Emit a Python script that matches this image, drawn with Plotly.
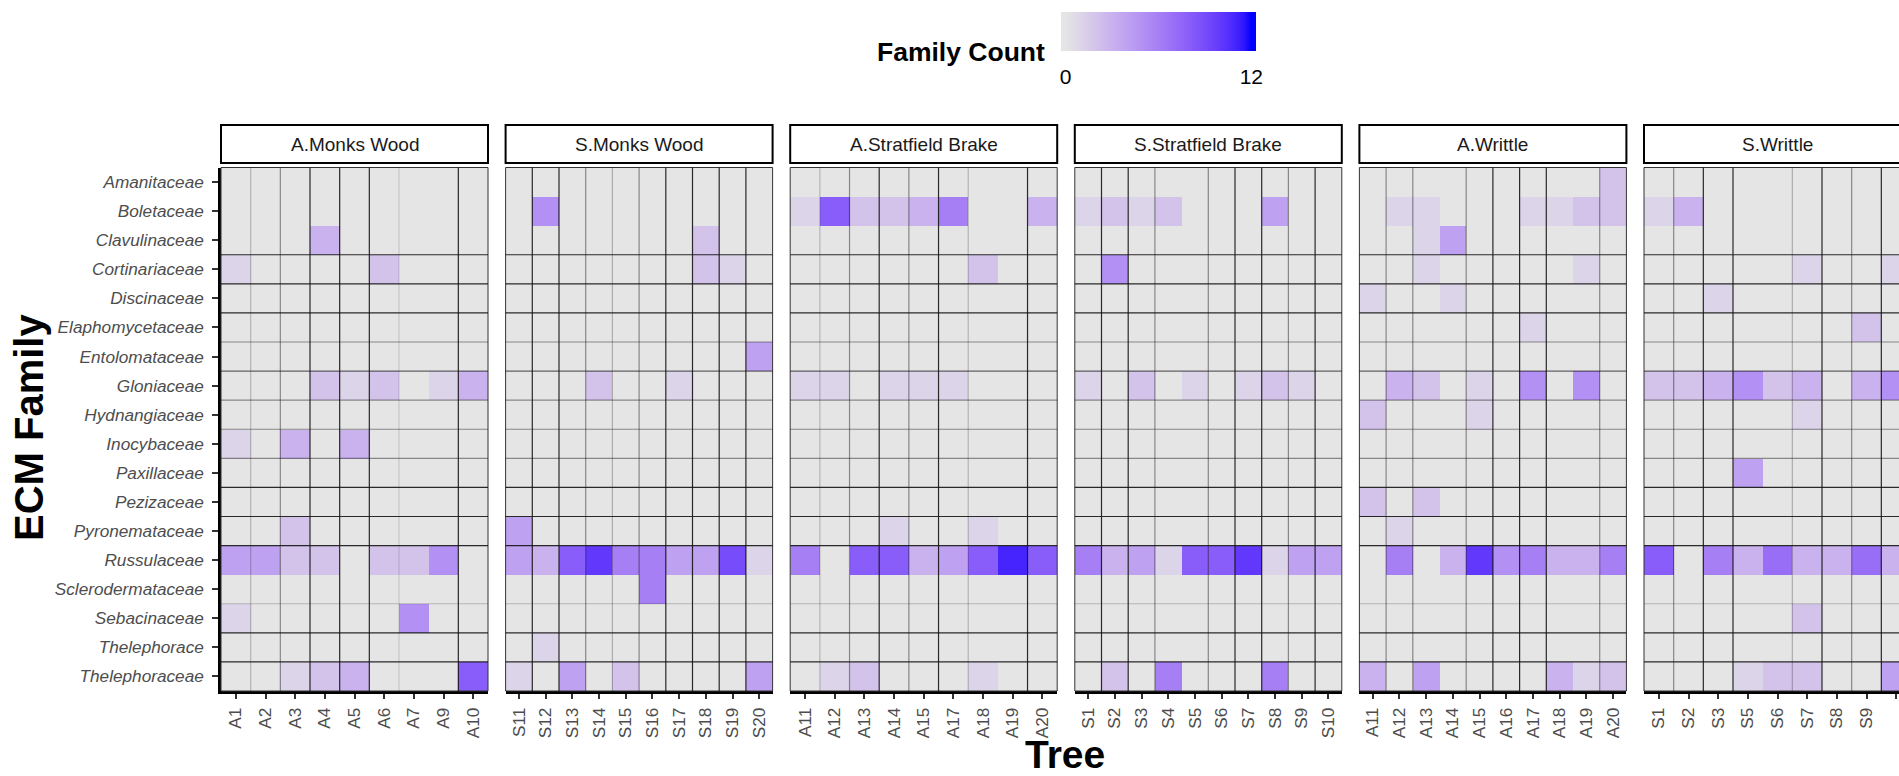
import plotly.graph_objects as go

W, H = 1899, 776
FONT = "Liberation Sans"

families = ["Amanitaceae", "Boletaceae", "Clavulinaceae", "Cortinariaceae", "Discinaceae",
            "Elaphomycetaceae", "Entolomataceae", "Gloniaceae", "Hydnangiaceae", "Inocybaceae",
            "Paxillaceae", "Pezizaceae", "Pyronemataceae", "Russulaceae", "Sclerodermataceae",
            "Sebacinaceae", "Thelephorace", "Thelephoraceae"]

facet_names = ["A.Monks Wood", "S.Monks Wood", "A.Stratfield Brake",
               "S.Stratfield Brake", "A.Writtle", "S.Writtle"]

trees_a_monks = ["A1", "A2", "A3", "A4", "A5", "A6", "A7", "A9", "A10"]
trees_s_monks = ["S11", "S12", "S13", "S14", "S15", "S16", "S17", "S18", "S19", "S20"]
trees_a_strat = ["A11", "A12", "A13", "A14", "A15", "A17", "A18", "A19", "A20"]
trees_s_strat = ["S1", "S2", "S3", "S4", "S5", "S6", "S7", "S8", "S9", "S10"]
trees_a_writ = ["A11", "A12", "A13", "A14", "A15", "A16", "A17", "A18", "A19", "A20"]
trees_s_writ = ["S1", "S2", "S3", "S5", "S6", "S7", "S8", "S9", "S10"]

# family counts per tree (families not listed have a count of 0 for every tree)
counts_a_monks = {
    "Clavulinaceae":  [0, 0, 0, 3, 0, 0, 0, 0, 0],
    "Cortinariaceae": [1, 0, 0, 0, 0, 2, 0, 0, 0],
    "Gloniaceae":     [0, 0, 0, 2, 1, 2, 0, 1, 3],
    "Inocybaceae":    [1, 0, 3, 0, 3, 0, 0, 0, 0],
    "Pyronemataceae": [0, 0, 2, 0, 0, 0, 0, 0, 0],
    "Russulaceae":    [4, 4, 2, 2, 0, 2, 2, 5, 0],
    "Sebacinaceae":   [1, 0, 0, 0, 0, 0, 5, 0, 0],
    "Thelephoraceae": [0, 0, 1, 2, 3, 0, 0, 0, 8],
}
counts_s_monks = {
    "Boletaceae":        [0, 5, 0, 0, 0, 0, 0, 0, 0, 0],
    "Clavulinaceae":     [0, 0, 0, 0, 0, 0, 0, 2, 0, 0],
    "Cortinariaceae":    [0, 0, 0, 0, 0, 0, 0, 2, 1, 0],
    "Entolomataceae":    [0, 0, 0, 0, 0, 0, 0, 0, 0, 4],
    "Gloniaceae":        [0, 0, 0, 2, 0, 0, 1, 0, 0, 0],
    "Pyronemataceae":    [4, 0, 0, 0, 0, 0, 0, 0, 0, 0],
    "Russulaceae":       [4, 3, 8, 10, 6, 6, 4, 4, 9, 1],
    "Sclerodermataceae": [0, 0, 0, 0, 0, 6, 0, 0, 0, 0],
    "Thelephorace":      [0, 1, 0, 0, 0, 0, 0, 0, 0, 0],
    "Thelephoraceae":    [1, 0, 4, 0, 2, 0, 0, 0, 0, 4],
}
counts_a_strat = {
    "Boletaceae":     [1, 8, 2, 2, 3, 6, 0, 0, 3],
    "Cortinariaceae": [0, 0, 0, 0, 0, 0, 2, 0, 0],
    "Gloniaceae":     [1, 1, 0, 1, 1, 1, 0, 0, 0],
    "Pyronemataceae": [0, 0, 0, 1, 0, 0, 1, 0, 0],
    "Russulaceae":    [6, 0, 8, 8, 3, 4, 8, 11, 8],
    "Thelephoraceae": [0, 1, 2, 0, 0, 0, 1, 0, 0],
}
counts_s_strat = {
    "Boletaceae":     [1, 2, 1, 2, 0, 0, 0, 4, 0, 0],
    "Cortinariaceae": [0, 5, 0, 0, 0, 0, 0, 0, 0, 0],
    "Gloniaceae":     [1, 0, 2, 0, 1, 0, 1, 2, 1, 0],
    "Russulaceae":    [6, 3, 4, 1, 8, 8, 10, 1, 4, 4],
    "Thelephoraceae": [0, 2, 0, 6, 0, 0, 0, 6, 0, 0],
}
counts_a_writ = {
    "Amanitaceae":      [0, 0, 0, 0, 0, 0, 0, 0, 0, 2],
    "Boletaceae":       [0, 1, 1, 0, 0, 0, 1, 1, 2, 2],
    "Clavulinaceae":    [0, 0, 1, 4, 0, 0, 0, 0, 0, 0],
    "Cortinariaceae":   [0, 0, 1, 0, 0, 0, 0, 0, 1, 0],
    "Discinaceae":      [1, 0, 0, 1, 0, 0, 0, 0, 0, 0],
    "Elaphomycetaceae": [0, 0, 0, 0, 0, 0, 1, 0, 0, 0],
    "Gloniaceae":       [0, 3, 2, 0, 1, 0, 5, 0, 5, 0],
    "Hydnangiaceae":    [2, 0, 0, 0, 1, 0, 0, 0, 0, 0],
    "Pezizaceae":       [2, 0, 2, 0, 0, 0, 0, 0, 0, 0],
    "Pyronemataceae":   [0, 1, 0, 0, 0, 0, 0, 0, 0, 0],
    "Russulaceae":      [0, 6, 0, 3, 10, 5, 6, 3, 3, 6],
    "Thelephoraceae":   [3, 0, 4, 0, 0, 0, 0, 3, 1, 2],
}
counts_s_writ = {
    "Boletaceae":       [1, 3, 0, 0, 0, 0, 0, 0, 0],
    "Cortinariaceae":   [0, 0, 0, 0, 0, 1, 0, 0, 1],
    "Discinaceae":      [0, 0, 1, 0, 0, 0, 0, 0, 0],
    "Elaphomycetaceae": [0, 0, 0, 0, 0, 0, 0, 2, 0],
    "Gloniaceae":       [2, 2, 3, 5, 2, 3, 0, 3, 5],
    "Hydnangiaceae":    [0, 0, 0, 0, 0, 1, 0, 0, 0],
    "Paxillaceae":      [0, 0, 0, 4, 0, 0, 0, 0, 0],
    "Russulaceae":      [8, 0, 6, 3, 7, 3, 3, 7, 3],
    "Sebacinaceae":     [0, 0, 0, 0, 0, 2, 0, 0, 0],
    "Thelephoraceae":   [0, 0, 0, 1, 2, 2, 0, 0, 4],
}

facet_trees = [trees_a_monks, trees_s_monks, trees_a_strat, trees_s_strat, trees_a_writ, trees_s_writ]
facet_counts = [counts_a_monks, counts_s_monks, counts_a_strat, counts_s_strat, counts_a_writ, counts_s_writ]

# ---------- styling: grid line strengths (tile borders as seen in the picture) ----------
h_line_alpha = [0, 0, 1, 1, 1, .5, .7, .5, .5, .5, 1, 1, 1, 0, .25, 1, 1]
v_line_alpha = [
    [.25, .5, 1, 1, 1, .15, 0, 1],
    [1, 1, .5, .3, .5, 1, 1, 1, 1],
    [.25, .5, 1, .5, 1, .25, 0, 1],
    [1, 1, .5, 0, .5, 1, 1, .5, 1],
    [.5, .5, 0, .5, 1, 1, 1, 0, .5],
    [.5, 1, 1, 0, .3, 1, .5, 1],
]

# ---------- colour scale: grey90 -> blue interpolated in CIE Lab (like ggplot) ----------
def _lin(c):
    c = c / 255.0
    return c / 12.92 if c <= 0.04045 else ((c + 0.055) / 1.055) ** 2.4

def _gam(c):
    c = max(0.0, min(1.0, c))
    v = 12.92 * c if c <= 0.0031308 else 1.055 * c ** (1 / 2.4) - 0.055
    return int(round(max(0, min(1, v)) * 255))

WP = (0.95047, 1.0, 1.08883)

def hex_to_lab(h):
    r, g, b = (_lin(int(h[i:i + 2], 16)) for i in (1, 3, 5))
    X = 0.4124564 * r + 0.3575761 * g + 0.1804375 * b
    Y = 0.2126729 * r + 0.7151522 * g + 0.0721750 * b
    Z = 0.0193339 * r + 0.1191920 * g + 0.9503041 * b
    def f(t):
        return t ** (1 / 3) if t > 216 / 24389 else (24389 / 27 * t + 16) / 116
    fx, fy, fz = f(X / WP[0]), f(Y / WP[1]), f(Z / WP[2])
    return (116 * fy - 16, 500 * (fx - fy), 200 * (fy - fz))

def lab_to_hex(L, a, b):
    fy = (L + 16) / 116
    fx = fy + a / 500
    fz = fy - b / 200
    def fi(t):
        return t ** 3 if t ** 3 > 216 / 24389 else (116 * t - 16) / (24389 / 27)
    X, Y, Z = fi(fx) * WP[0], fi(fy) * WP[1], fi(fz) * WP[2]
    r = 3.2404542 * X - 1.5371385 * Y - 0.4985314 * Z
    g = -0.9692660 * X + 1.8760108 * Y + 0.0415560 * Z
    bb = 0.0556434 * X - 0.2040259 * Y + 1.0572252 * Z
    return "#%02x%02x%02x" % (_gam(r), _gam(g), _gam(bb))

LOW, HIGH = hex_to_lab("#e5e5e5"), hex_to_lab("#0000ff")
ZMIN, ZMAX, PAD = 0, 12, 0.3
CMIN, CMAX = ZMIN - PAD, ZMAX + PAD
colorscale = [[0.0, lab_to_hex(*LOW)]]
N = 24
for i in range(N + 1):
    t = i / N
    lab = tuple(LOW[k] + (HIGH[k] - LOW[k]) * t for k in range(3))
    v = ZMIN + t * (ZMAX - ZMIN)
    colorscale.append([(v - CMIN) / (CMAX - CMIN), lab_to_hex(*lab)])
colorscale.append([1.0, lab_to_hex(*HIGH)])

# ---------- geometry (pixels) ----------
PANEL_LEFT0, PANEL_STEP, PANEL_W = 221.0, 284.6, 267.0
PANEL_TOP, PANEL_BOT = 167.5, 691.0
STRIP_TOP, STRIP_BOT = 125.0, 163.0

fig = go.Figure()
nfam = len(families)
ydom = [1 - PANEL_BOT / H, 1 - PANEL_TOP / H]
shapes, annotations = [], []

for k, (trees, counts) in enumerate(zip(facet_trees, facet_counts)):
    n = len(trees)
    z = [counts.get(f, [0] * n) for f in families]
    xname = "x" if k == 0 else "x%d" % (k + 1)
    axname = "xaxis" if k == 0 else "xaxis%d" % (k + 1)
    left = PANEL_LEFT0 + PANEL_STEP * k
    right = left + PANEL_W
    d1 = min(right / W, 1.0)
    visible_cols = n * (min(right, W) - left) / PANEL_W
    fig.add_trace(go.Heatmap(
        z=z, x=list(range(n)), y=list(range(nfam)),
        coloraxis="coloraxis", xaxis=xname, yaxis="y",
        xgap=0, ygap=0, hoverongaps=False,
    ))
    fig.layout[axname] = dict(
        domain=[left / W, d1], anchor="y",
        range=[-0.5, -0.5 + visible_cols],
        tickmode="array", tickvals=list(range(n)), ticktext=trees,
        tickangle=-90, ticks="outside", ticklen=5, tickwidth=1.5, tickcolor="#333333",
        ticklabelstandoff=2,
        tickfont=dict(family=FONT, size=17.2, color="#4d4d4d"),
        showline=True, linecolor="black", linewidth=2.5,
        showgrid=False, zeroline=False, fixedrange=True,
    )
    # panel border
    shapes.append(dict(type="rect", xref="paper", yref="paper",
                       x0=left / W, x1=right / W, y0=ydom[0], y1=ydom[1],
                       line=dict(color="#333333", width=1), layer="above"))
    # internal tile borders
    for i, a in enumerate(v_line_alpha[k]):
        if a > 0:
            shapes.append(dict(type="line", xref=xname, yref="paper",
                               x0=i + 0.5, x1=i + 0.5, y0=ydom[0], y1=ydom[1],
                               line=dict(color="rgba(20,20,20,%.2f)" % (0.9 * a), width=1.2),
                               layer="above"))
    for j, a in enumerate(h_line_alpha):
        if a > 0:
            shapes.append(dict(type="line", xref="paper", yref="y",
                               x0=left / W, x1=right / W, y0=j + 0.5, y1=j + 0.5,
                               line=dict(color="rgba(20,20,20,%.2f)" % (0.9 * a), width=1.2),
                               layer="above"))
    # strip
    shapes.append(dict(type="rect", xref="paper", yref="paper",
                       x0=left / W, x1=right / W, y0=1 - STRIP_BOT / H, y1=1 - STRIP_TOP / H,
                       fillcolor="white", line=dict(color="black", width=2)))
    annotations.append(dict(text=facet_names[k], xref="paper", yref="paper",
                            x=(left + PANEL_W / 2) / W, y=1 - (STRIP_TOP + STRIP_BOT) / 2 / H,
                            xanchor="center", yanchor="middle", showarrow=False,
                            font=dict(family=FONT, size=19, color="#1a1a1a")))

fig.update_layout(
    width=W, height=H,
    margin=dict(l=0, r=0, t=0, b=0),
    paper_bgcolor="white", plot_bgcolor="white",
    showlegend=False,
    yaxis=dict(domain=ydom, anchor="x", range=[nfam - 0.5, -0.5],
               tickmode="array", tickvals=list(range(nfam)), ticktext=families,
               ticks="outside", ticklen=6, tickwidth=1.5, tickcolor="#333333",
               ticklabelstandoff=5,
               tickfont=dict(family=FONT, size=17.2, color="#4d4d4d", style="italic"),
               showline=True, linecolor="black", linewidth=2.5,
               showgrid=False, zeroline=False, fixedrange=True),
    coloraxis=dict(
        cmin=CMIN, cmax=CMAX, colorscale=colorscale,
        colorbar=dict(orientation="h", x=1158.5 / W, xanchor="center",
                      y=1 - 12 / H, yanchor="top", len=195, lenmode="pixels",
                      thickness=39, thicknessmode="pixels", xpad=0, ypad=0,
                      outlinewidth=0, tickmode="array", tickvals=[0, 12], ticktext=["0", "12"],
                      ticks="outside", ticklen=8, tickwidth=1, tickcolor="white",
                      tickfont=dict(family=FONT, size=21, color="black")),
    ),
    shapes=shapes,
)

annotations += [
    dict(text="<b>Family Count</b>", xref="paper", yref="paper", x=1047 / W, y=1 - 52 / H,
         xanchor="right", yanchor="middle", showarrow=False,
         font=dict(family=FONT, size=26.5, color="black")),
    dict(text="<b>ECM Family</b>", xref="paper", yref="paper", x=29 / W, y=1 - 428 / H,
         xanchor="center", yanchor="middle", textangle=-90, showarrow=False,
         font=dict(family=FONT, size=40, color="black")),
    dict(text="<b>Tree</b>", xref="paper", yref="paper", x=1065 / W, y=-2 / H,
         xanchor="center", yanchor="bottom", showarrow=False,
         font=dict(family=FONT, size=39, color="black")),
]
fig.update_layout(annotations=annotations)

fig.write_html("out.html", config={"displayModeBar": False},
               post_script="document.body.style.margin='0';document.body.style.overflow='hidden';")
